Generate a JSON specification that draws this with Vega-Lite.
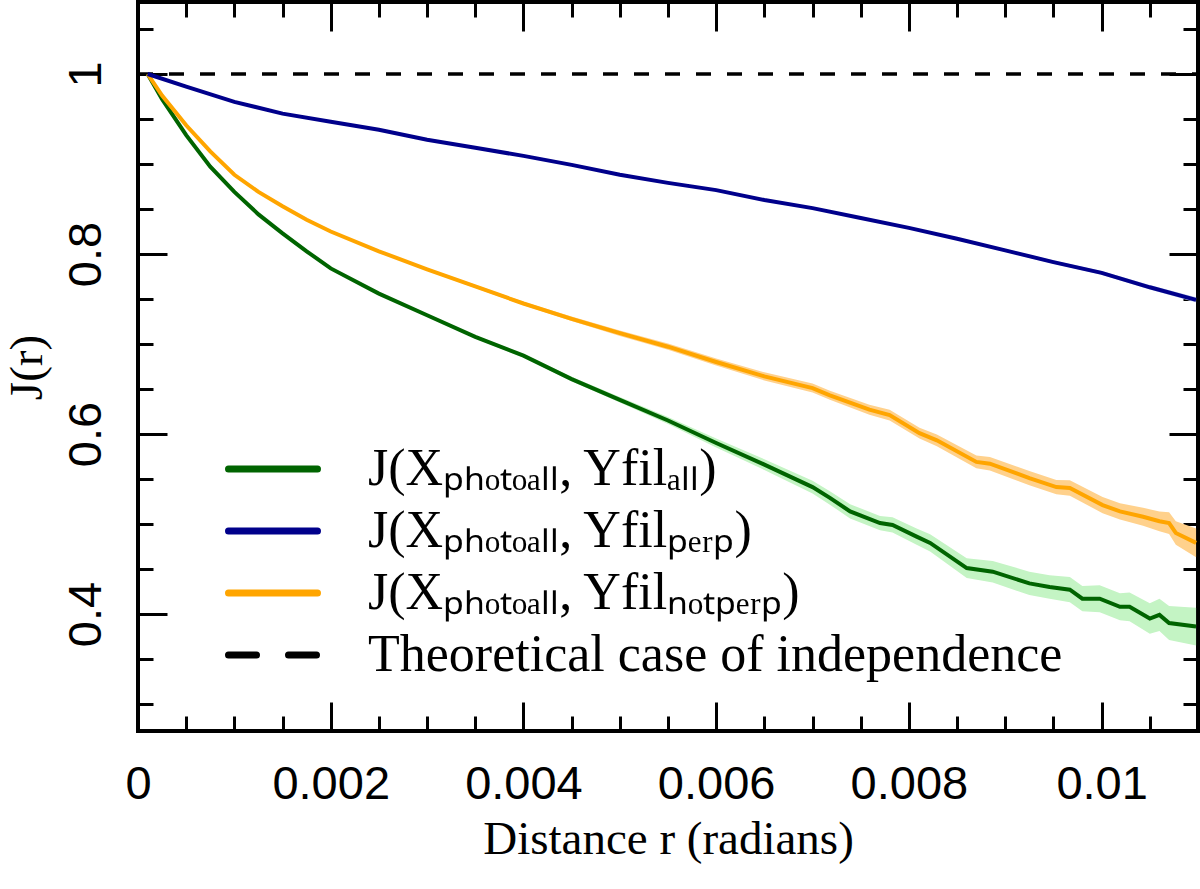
{
  "$schema": "https://vega.github.io/schema/vega-lite/v6.json",
  "description": "J function of photo positions vs filament positions, with confidence bands",
  "width": 1060,
  "height": 729,
  "autosize": {"type": "none"},
  "padding": {"left": 138, "top": 2, "right": 2, "bottom": 158},
  "background": "white",
  "data": {
    "values": [
      {"s": "all", "r": 0.0001, "J": 1.0, "lo": 1.0, "hi": 1.0},
      {"s": "all", "r": 0.00025, "J": 0.972, "lo": 0.9715, "hi": 0.9725},
      {"s": "all", "r": 0.0005, "J": 0.932, "lo": 0.9312, "hi": 0.9328},
      {"s": "all", "r": 0.00075, "J": 0.897, "lo": 0.896, "hi": 0.898},
      {"s": "all", "r": 0.001, "J": 0.869, "lo": 0.868, "hi": 0.87},
      {"s": "all", "r": 0.00125, "J": 0.844, "lo": 0.843, "hi": 0.845},
      {"s": "all", "r": 0.0015, "J": 0.823, "lo": 0.822, "hi": 0.824},
      {"s": "all", "r": 0.00175, "J": 0.803, "lo": 0.802, "hi": 0.804},
      {"s": "all", "r": 0.002, "J": 0.784, "lo": 0.783, "hi": 0.785},
      {"s": "all", "r": 0.0025, "J": 0.756, "lo": 0.7548, "hi": 0.7572},
      {"s": "all", "r": 0.003, "J": 0.732, "lo": 0.7305, "hi": 0.7335},
      {"s": "all", "r": 0.0035, "J": 0.708, "lo": 0.7062, "hi": 0.7098},
      {"s": "all", "r": 0.004, "J": 0.687, "lo": 0.685, "hi": 0.689},
      {"s": "all", "r": 0.0045, "J": 0.661, "lo": 0.6585, "hi": 0.6635},
      {"s": "all", "r": 0.005, "J": 0.638, "lo": 0.635, "hi": 0.641},
      {"s": "all", "r": 0.0055, "J": 0.615, "lo": 0.611, "hi": 0.619},
      {"s": "all", "r": 0.006, "J": 0.59, "lo": 0.585, "hi": 0.595},
      {"s": "all", "r": 0.0065, "J": 0.566, "lo": 0.56, "hi": 0.572},
      {"s": "all", "r": 0.007, "J": 0.541, "lo": 0.534, "hi": 0.548},
      {"s": "all", "r": 0.00718, "J": 0.529, "lo": 0.5215, "hi": 0.5365},
      {"s": "all", "r": 0.00739, "J": 0.514, "lo": 0.506, "hi": 0.522},
      {"s": "all", "r": 0.0077, "J": 0.501, "lo": 0.493, "hi": 0.509},
      {"s": "all", "r": 0.00783, "J": 0.499, "lo": 0.4905, "hi": 0.5075},
      {"s": "all", "r": 0.00808, "J": 0.486, "lo": 0.477, "hi": 0.495},
      {"s": "all", "r": 0.00822, "J": 0.479, "lo": 0.4695, "hi": 0.4885},
      {"s": "all", "r": 0.0086, "J": 0.451, "lo": 0.44, "hi": 0.462},
      {"s": "all", "r": 0.00887, "J": 0.447, "lo": 0.435, "hi": 0.459},
      {"s": "all", "r": 0.00925, "J": 0.434, "lo": 0.421, "hi": 0.447},
      {"s": "all", "r": 0.00946, "J": 0.43, "lo": 0.417, "hi": 0.443},
      {"s": "all", "r": 0.00967, "J": 0.427, "lo": 0.413, "hi": 0.441},
      {"s": "all", "r": 0.0098, "J": 0.417, "lo": 0.403, "hi": 0.431},
      {"s": "all", "r": 0.00998, "J": 0.417, "lo": 0.402, "hi": 0.432},
      {"s": "all", "r": 0.01019, "J": 0.408, "lo": 0.393, "hi": 0.423},
      {"s": "all", "r": 0.01029, "J": 0.408, "lo": 0.392, "hi": 0.424},
      {"s": "all", "r": 0.0105, "J": 0.395, "lo": 0.378, "hi": 0.412},
      {"s": "all", "r": 0.0106, "J": 0.399, "lo": 0.381, "hi": 0.417},
      {"s": "all", "r": 0.0107, "J": 0.39, "lo": 0.371, "hi": 0.409},
      {"s": "all", "r": 0.01098, "J": 0.386, "lo": 0.365, "hi": 0.407},

      {"s": "notperp", "r": 0.0001, "J": 1.0, "lo": 1.0, "hi": 1.0},
      {"s": "notperp", "r": 0.00025, "J": 0.976, "lo": 0.9755, "hi": 0.9765},
      {"s": "notperp", "r": 0.0005, "J": 0.943, "lo": 0.9422, "hi": 0.9438},
      {"s": "notperp", "r": 0.00075, "J": 0.914, "lo": 0.913, "hi": 0.915},
      {"s": "notperp", "r": 0.001, "J": 0.888, "lo": 0.887, "hi": 0.889},
      {"s": "notperp", "r": 0.00125, "J": 0.869, "lo": 0.868, "hi": 0.87},
      {"s": "notperp", "r": 0.0015, "J": 0.853, "lo": 0.852, "hi": 0.854},
      {"s": "notperp", "r": 0.00175, "J": 0.838, "lo": 0.837, "hi": 0.839},
      {"s": "notperp", "r": 0.002, "J": 0.825, "lo": 0.824, "hi": 0.826},
      {"s": "notperp", "r": 0.0025, "J": 0.803, "lo": 0.8018, "hi": 0.8042},
      {"s": "notperp", "r": 0.003, "J": 0.783, "lo": 0.7815, "hi": 0.7845},
      {"s": "notperp", "r": 0.0035, "J": 0.764, "lo": 0.7622, "hi": 0.7658},
      {"s": "notperp", "r": 0.004, "J": 0.745, "lo": 0.743, "hi": 0.747},
      {"s": "notperp", "r": 0.0045, "J": 0.728, "lo": 0.7255, "hi": 0.7305},
      {"s": "notperp", "r": 0.005, "J": 0.712, "lo": 0.709, "hi": 0.715},
      {"s": "notperp", "r": 0.0055, "J": 0.697, "lo": 0.6935, "hi": 0.7005},
      {"s": "notperp", "r": 0.006, "J": 0.68, "lo": 0.676, "hi": 0.684},
      {"s": "notperp", "r": 0.0065, "J": 0.664, "lo": 0.6595, "hi": 0.6685},
      {"s": "notperp", "r": 0.007, "J": 0.651, "lo": 0.646, "hi": 0.656},
      {"s": "notperp", "r": 0.00718, "J": 0.643, "lo": 0.638, "hi": 0.648},
      {"s": "notperp", "r": 0.00759, "J": 0.627, "lo": 0.6215, "hi": 0.6325},
      {"s": "notperp", "r": 0.0078, "J": 0.621, "lo": 0.615, "hi": 0.627},
      {"s": "notperp", "r": 0.00811, "J": 0.601, "lo": 0.595, "hi": 0.607},
      {"s": "notperp", "r": 0.00829, "J": 0.593, "lo": 0.5865, "hi": 0.5995},
      {"s": "notperp", "r": 0.0087, "J": 0.569, "lo": 0.562, "hi": 0.576},
      {"s": "notperp", "r": 0.00884, "J": 0.567, "lo": 0.5595, "hi": 0.5745},
      {"s": "notperp", "r": 0.00925, "J": 0.551, "lo": 0.543, "hi": 0.559},
      {"s": "notperp", "r": 0.00953, "J": 0.541, "lo": 0.533, "hi": 0.549},
      {"s": "notperp", "r": 0.00967, "J": 0.54, "lo": 0.5315, "hi": 0.5485},
      {"s": "notperp", "r": 0.01001, "J": 0.521, "lo": 0.512, "hi": 0.53},
      {"s": "notperp", "r": 0.01019, "J": 0.514, "lo": 0.505, "hi": 0.523},
      {"s": "notperp", "r": 0.01043, "J": 0.508, "lo": 0.498, "hi": 0.518},
      {"s": "notperp", "r": 0.0106, "J": 0.503, "lo": 0.492, "hi": 0.514},
      {"s": "notperp", "r": 0.0107, "J": 0.501, "lo": 0.489, "hi": 0.513},
      {"s": "notperp", "r": 0.01077, "J": 0.49, "lo": 0.477, "hi": 0.503},
      {"s": "notperp", "r": 0.01098, "J": 0.479, "lo": 0.463, "hi": 0.495},

      {"s": "perp", "r": 0.0001, "J": 1.0, "lo": 1.0, "hi": 1.0},
      {"s": "perp", "r": 0.0005, "J": 0.986, "lo": 0.9858, "hi": 0.9862},
      {"s": "perp", "r": 0.001, "J": 0.969, "lo": 0.9687, "hi": 0.9693},
      {"s": "perp", "r": 0.0015, "J": 0.956, "lo": 0.9556, "hi": 0.9564},
      {"s": "perp", "r": 0.002, "J": 0.947, "lo": 0.9465, "hi": 0.9475},
      {"s": "perp", "r": 0.0025, "J": 0.938, "lo": 0.9375, "hi": 0.9385},
      {"s": "perp", "r": 0.003, "J": 0.927, "lo": 0.9264, "hi": 0.9276},
      {"s": "perp", "r": 0.0035, "J": 0.918, "lo": 0.9174, "hi": 0.9186},
      {"s": "perp", "r": 0.004, "J": 0.909, "lo": 0.9083, "hi": 0.9097},
      {"s": "perp", "r": 0.0045, "J": 0.899, "lo": 0.8983, "hi": 0.8997},
      {"s": "perp", "r": 0.005, "J": 0.888, "lo": 0.8872, "hi": 0.8888},
      {"s": "perp", "r": 0.0055, "J": 0.879, "lo": 0.8781, "hi": 0.8799},
      {"s": "perp", "r": 0.006, "J": 0.871, "lo": 0.87, "hi": 0.872},
      {"s": "perp", "r": 0.0065, "J": 0.86, "lo": 0.859, "hi": 0.861},
      {"s": "perp", "r": 0.007, "J": 0.851, "lo": 0.8499, "hi": 0.8521},
      {"s": "perp", "r": 0.0075, "J": 0.84, "lo": 0.8388, "hi": 0.8412},
      {"s": "perp", "r": 0.008, "J": 0.829, "lo": 0.8277, "hi": 0.8303},
      {"s": "perp", "r": 0.0085, "J": 0.817, "lo": 0.8156, "hi": 0.8184},
      {"s": "perp", "r": 0.009, "J": 0.804, "lo": 0.8025, "hi": 0.8055},
      {"s": "perp", "r": 0.0095, "J": 0.791, "lo": 0.7893, "hi": 0.7927},
      {"s": "perp", "r": 0.01, "J": 0.779, "lo": 0.777, "hi": 0.781},
      {"s": "perp", "r": 0.0105, "J": 0.763, "lo": 0.7605, "hi": 0.7655},
      {"s": "perp", "r": 0.01098, "J": 0.749, "lo": 0.746, "hi": 0.752},

      {"s": "indep", "r": 0, "J": 1.0},
      {"s": "indep", "r": 0.011, "J": 1.0}
    ]
  },
  "layer": [
    {
      "transform": [{"filter": "datum.s === 'all' || datum.s === 'notperp'"}],
      "mark": {"type": "area", "clip": true},
      "encoding": {
        "x": {
          "field": "r", "type": "quantitative",
          "scale": {"domain": [0, 0.011], "nice": false, "zero": false},
          "axis": {
            "orient": "bottom", "values": [0, 0.002, 0.004, 0.006, 0.008, 0.01],
            "format": "~g", "tickSize": -29, "labelPadding": 59, "labelFlush": false,
            "labelOverlap": false, "title": "Distance r (radians)",
            "titleY": 122, "titleBaseline": "alphabetic"
          }
        },
        "y": {
          "field": "lo", "type": "quantitative",
          "scale": {"domain": [0.27, 1.08], "nice": false, "zero": false},
          "axis": {
            "orient": "left", "values": [0.4, 0.6, 0.8, 1.0],
            "format": ".1~f", "tickSize": -29, "labelPadding": 67, "labelFlush": false,
            "labelOverlap": false, "labelAngle": 270, "labelAlign": "center",
            "labelBaseline": "alphabetic", "title": "J(r)",
            "titleX": -97, "titleY": 365, "titleAngle": 270,
            "titleAlign": "center", "titleBaseline": "alphabetic"
          }
        },
        "y2": {"field": "hi"},
        "fill": {
          "field": "s", "type": "nominal",
          "scale": {"domain": ["all", "perp", "notperp"], "range": ["#c4f4c4", "#c6d4f0", "#ffd18c"]},
          "legend": null
        }
      }
    },
    {
      "transform": [{"filter": "datum.s === 'perp'"}],
      "mark": {"type": "area", "clip": true},
      "encoding": {
        "x": {
          "field": "r", "type": "quantitative",
          "axis": {
            "orient": "bottom",
            "values": [0.0005, 0.001, 0.0015, 0.0025, 0.003, 0.0035, 0.0045, 0.005, 0.0055, 0.0065, 0.007, 0.0075, 0.0085, 0.009, 0.0095, 0.0105],
            "labels": false, "tickSize": -15, "title": null
          }
        },
        "y": {
          "field": "lo", "type": "quantitative",
          "axis": {
            "orient": "left",
            "values": [0.3, 0.35, 0.45, 0.5, 0.55, 0.65, 0.7, 0.75, 0.85, 0.9, 0.95, 1.05],
            "labels": false, "tickSize": -15, "title": null
          }
        },
        "y2": {"field": "hi"},
        "fill": {"field": "s", "type": "nominal", "legend": null}
      }
    },
    {
      "transform": [{"filter": "datum.s === 'indep'"}],
      "mark": {"type": "line", "strokeWidth": 3.5, "strokeDash": [15, 16], "clip": true},
      "encoding": {
        "x": {
          "field": "r", "type": "quantitative",
          "axis": {
            "orient": "top", "values": [0, 0.002, 0.004, 0.006, 0.008, 0.01],
            "labels": false, "tickSize": -29, "title": null
          }
        },
        "y": {
          "field": "J", "type": "quantitative",
          "axis": {
            "orient": "right", "values": [0.4, 0.6, 0.8, 1.0],
            "labels": false, "tickSize": -29, "title": null
          }
        },
        "color": {"field": "s", "type": "nominal"}
      }
    },
    {
      "transform": [{"filter": "datum.s !== 'indep'"}],
      "mark": {"type": "line", "strokeWidth": 4, "clip": true},
      "encoding": {
        "x": {
          "field": "r", "type": "quantitative",
          "axis": {
            "orient": "top",
            "values": [0.0005, 0.001, 0.0015, 0.0025, 0.003, 0.0035, 0.0045, 0.005, 0.0055, 0.0065, 0.007, 0.0075, 0.0085, 0.009, 0.0095, 0.0105],
            "labels": false, "tickSize": -15, "title": null
          }
        },
        "y": {
          "field": "J", "type": "quantitative",
          "axis": {
            "orient": "right",
            "values": [0.3, 0.35, 0.45, 0.5, 0.55, 0.65, 0.7, 0.75, 0.85, 0.9, 0.95, 1.05],
            "labels": false, "tickSize": -15, "title": null
          }
        },
        "color": {
          "field": "s", "type": "nominal",
          "scale": {
            "domain": ["all", "perp", "notperp", "indep"],
            "range": ["#006400", "#00008b", "#ffa500", "#000000"]
          },
          "legend": {
            "title": null, "orient": "none", "legendX": 109, "legendY": 441,
            "symbolType": "M-3,0H3", "symbolSize": 880, "symbolStrokeWidth": 7,
            "labelFont": "Liberation Serif", "labelFontSize": 52, "labelColor": "black",
            "labelOffset": 69, "labelLimit": 2000, "rowPadding": 10, "padding": 0,
            "labelExpr": "datum.value === 'all' ? 'J(Xₚₕₒₜₒₐₗₗ, Yfilₐₗₗ)' : datum.value === 'perp' ? 'J(Xₚₕₒₜₒₐₗₗ, Yfilₚₑᵣₚ)' : datum.value === 'notperp' ? 'J(Xₚₕₒₜₒₐₗₗ, Yfilₙₒₜₚₑᵣₚ)' : 'Theoretical case of independence'",
            "encode": {
              "symbols": {
                "update": {
                  "strokeDash": {"signal": "datum.value === 'indep' ? [28, 32] : [1, 0]"},
                  "strokeCap": {"value": "round"}
                }
              }
            }
          }
        }
      }
    }
  ],
  "resolve": {"axis": {"x": "independent", "y": "independent"}},
  "config": {
    "view": {"stroke": "black", "strokeWidth": 4},
    "axis": {
      "domain": false, "grid": false, "zindex": 1,
      "tickColor": "black", "tickWidth": 3,
      "labelFont": "Liberation Sans", "labelFontSize": 47, "labelFontWeight": "normal", "labelColor": "black",
      "titleFont": "Liberation Serif", "titleFontSize": 47, "titleFontWeight": "normal", "titleColor": "black"
    }
  }
}
